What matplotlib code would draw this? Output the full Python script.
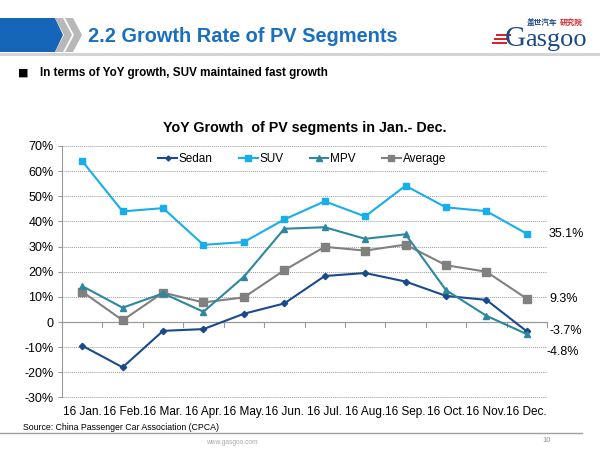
import matplotlib.pyplot as plt
from matplotlib.patches import Polygon, Rectangle
from matplotlib.ticker import FuncFormatter

plt.rcParams['font.family'] = ['Liberation Sans', 'Noto Sans CJK SC', 'DejaVu Sans']

months = ['16 Jan.', '16 Feb.', '16 Mar.', '16 Apr.', '16 May.', '16 Jun.',
          '16 Jul.', '16 Aug.', '16 Sep.', '16 Oct.', '16 Nov.', '16 Dec.']
sedan = [-9.4, -18.0, -3.5, -2.8, 3.3, 7.4, 18.3, 19.5, 16.1, 10.4, 8.8, -3.7]
suv = [64.0, 44.0, 45.3, 30.7, 31.8, 40.8, 48.0, 42.0, 54.2, 45.6, 44.1, 35.1]
mpv = [14.3, 5.7, 11.4, 4.1, 18.0, 37.1, 37.7, 33.1, 34.9, 12.7, 2.5, -4.8]
average = [12.1, 0.7, 11.7, 7.8, 9.8, 20.6, 29.9, 28.4, 30.8, 22.6, 20.0, 9.3]
yticks = list(range(-30, 80, 10))

W, H = 600, 450
fig = plt.figure(figsize=(6, 4.5), dpi=100)

# slide background layer (pixel coordinates)
bg = fig.add_axes([0, 0, 1, 1])
bg.set_xlim(0, W)
bg.set_ylim(H, 0)
bg.axis('off')
bg.add_patch(Polygon([(0, 18), (55, 18), (63, 35), (55, 52), (0, 52)],
                     closed=True, color='#1565b8', lw=0))
for off in (0, 10):
    bg.add_patch(Polygon([(55 + off, 18), (63 + off, 18), (72 + off, 35), (63 + off, 52),
                          (55 + off, 52), (64 + off, 35)], closed=True, color='#b8b8b8', lw=0))
bg.plot([0, W], [54, 54], color='#d4d4d4', lw=2.2)
bg.text(88, 36, '2.2 Growth Rate of PV Segments', color='#1a6fc0', fontsize=14.4,
        fontweight='bold', va='center', ha='left')

# logo
for i, yy in enumerate((34, 38, 42)):
    bg.add_patch(Rectangle((496 - i * 2, yy), 15, 2.2, color='#d8232a', lw=0))
bg.text(505, 46, 'G', family='Liberation Serif', fontsize=21, color='#1c4a86',
        va='baseline', ha='left')
bg.text(525, 46, 'asgoo', family='Liberation Serif', fontsize=19, color='#1c4a86',
        va='baseline', ha='left')
bg.text(527, 22, '盖世汽车', family=['Noto Sans CJK SC'], fontsize=5.5,
        color='#1c4a86', fontweight='bold', va='center', ha='left')
bg.text(560, 22, '研究院', family=['Noto Sans CJK SC'], fontsize=5.5,
        color='#d8232a', fontweight='bold', va='center', ha='left')

# bullet
bg.text(18, 73, '■', fontsize=8, va='center', ha='left', family=['DejaVu Sans'])
bg.text(40, 73, 'In terms of YoY growth, SUV maintained fast growth', fontsize=8.4,
        fontweight='bold', va='center', ha='left')

# chart title
bg.text(305, 128, 'YoY Growth  of PV segments in Jan.- Dec.', fontsize=10.3,
        fontweight='bold', va='center', ha='center')

# footer
bg.text(23, 428, 'Source: China Passenger Car Association (CPCA)', fontsize=6.3,
        va='center', ha='left')
bg.plot([0, 582], [433, 433], color='#a0a0a0', lw=1)
bg.text(232, 442, 'www.gasgoo.com', fontsize=4.8, color='#a8a8a8', va='center', ha='center')
bg.text(547, 440, '10', fontsize=5.5, color='#909090', va='center', ha='center')

# chart
left, top, right, bottom = 62, 146, 547, 397.5
ax = fig.add_axes([left / W, 1 - bottom / H, (right - left) / W, (bottom - top) / H])
x = list(range(len(months)))
ax.set_xlim(-0.5, len(months) - 0.5)
ax.set_ylim(-30, 70)
ax.set_yticks(yticks)
ax.yaxis.set_major_formatter(FuncFormatter(lambda v, p: '0' if v == 0 else '%d%%' % v))
ax.grid(axis='y', color='#9a9a9a', ls=(0, (1, 1)), lw=0.7)
ax.set_axisbelow(True)
for s in ('top', 'right', 'bottom'):
    ax.spines[s].set_visible(False)
ax.spines['left'].set_color('#9a9a9a')
ax.spines['left'].set_linewidth(0.8)
ax.tick_params(axis='y', length=3, color='#9a9a9a', labelsize=9, pad=3)
ax.set_xticks(x)
ax.set_xticklabels(months, fontsize=8.5)
ax.tick_params(axis='x', length=0, pad=6)

# zero axis with category boundary ticks
ax.axhline(0, color='#9a9a9a', lw=0.9, zorder=2)
for b in [i - 0.5 for i in range(len(months) + 1)]:
    ax.plot([b, b], [0, -1.8], color='#9a9a9a', lw=0.8, zorder=2, clip_on=False)

ax.plot(x, sedan, color='#1b4a8c', lw=1.5, marker='D', ms=3.2, label='Sedan', zorder=5)
ax.plot(x, suv, color='#18aeec', lw=1.5, marker='s', ms=5, label='SUV', zorder=5)
ax.plot(x, mpv, color='#2d87a0', lw=1.5, marker='^', ms=5, label='MPV', zorder=5)
ax.plot(x, average, color='#808080', lw=1.5, marker='s', ms=5.5, label='Average', zorder=4)

last = len(months) - 1
for vals in (suv, average, sedan):
    ax.annotate('%.1f%%' % vals[-1], (last, vals[-1]), xytext=(16, 0),
                textcoords='offset points', fontsize=9, va='center', ha='left')
ax.annotate('%.1f%%' % mpv[-1], (last, mpv[-1]), xytext=(14, -13),
            textcoords='offset points', fontsize=9, va='center', ha='left')

ax.legend(loc='upper center', bbox_to_anchor=(0.495, 1.0), ncol=4, frameon=False,
          fontsize=8.5, handlelength=1.6, handletextpad=0.15, columnspacing=2.2,
          markerscale=0.8, borderaxespad=0.2)

fig.savefig('out.png', dpi=100)
